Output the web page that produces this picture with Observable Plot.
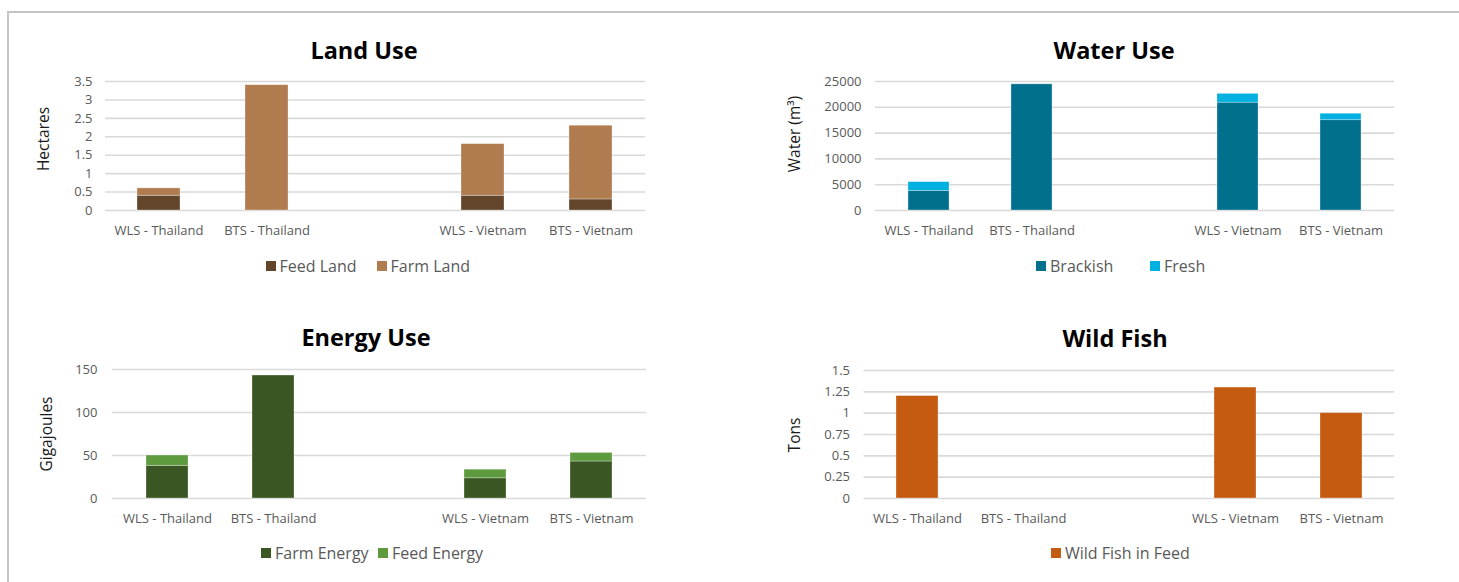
<!DOCTYPE html>
<html><head><meta charset="utf-8">
<script src="https://cdn.jsdelivr.net/npm/d3@7"></script>
<script src="https://cdn.jsdelivr.net/npm/@observablehq/plot@0.6"></script>
<style>
body{margin:0;background:#fff;font-family:"Open Sans",sans-serif;}
#page{position:relative;width:1459px;height:582px;overflow:hidden;background:#fff;}
.frame{position:absolute;left:7px;top:11px;width:1500px;height:620px;border-top:2px solid #c4c4c4;border-left:2px solid #c4c4c4;}
.title{position:absolute;width:400px;text-align:center;font-size:23.5px;font-weight:700;line-height:23px;color:#000;white-space:nowrap;}
.ylab{position:absolute;font-size:15.5px;color:#1a1a1a;white-space:nowrap;transform:translate(-50%,-50%) rotate(-90deg);line-height:1;}
.legend{position:absolute;display:flex;height:20px;align-items:center;font-size:16px;color:#595959;line-height:20px;white-space:nowrap;}
.item{display:flex;align-items:center;}
.sw{width:10px;height:10px;margin-right:4px;flex:none;}
.chart{position:absolute;}
</style></head>
<body><div id="page"><div class="frame"></div></div>
<script>
// ---- data ----
const categories = ["WLS - Thailand", "BTS - Thailand", "WLS - Vietnam", "BTS - Vietnam"];
const xDomain = ["WLS - Thailand", "BTS - Thailand", " ", "WLS - Vietnam", "BTS - Vietnam"];

const landSeries = ["Feed Land", "Farm Land"];
const landFeed = [0.4, 0, 0.4, 0.3];
const landFarm = [0.2, 3.4, 1.4, 2.0];
const landTicks = [0, 0.5, 1, 1.5, 2, 2.5, 3, 3.5];

const waterSeries = ["Brackish", "Fresh"];
const waterBrackish = [3800, 24450, 20900, 17500];
const waterFresh = [1700, 0, 1700, 1250];
const waterTicks = [0, 5000, 10000, 15000, 20000, 25000];

const energySeries = ["Farm Energy", "Feed Energy"];
const energyFarm = [38, 143, 23.5, 43];
const energyFeed = [12, 0, 10, 10];
const energyTicks = [0, 50, 100, 150];

const fishSeries = ["Wild Fish in Feed"];
const fishFeed = [1.2, 0, 1.3, 1.0];
const fishTicks = [0, 0.25, 0.5, 0.75, 1, 1.25, 1.5];

const panels = [
  {title:"Land Use", ylabel:"Hectares", series:landSeries, values:[landFeed, landFarm], ticks:landTicks, domain:[0,3.5],
   colors:["#63452c","#b07c4f"],
   left:20, top:70, width:640, height:170, mL:85, mT:11, tickPad:13,
   titleX:364, titleTop:39, ylabX:44, ylabY:139, legX:265.6, legTop:255.5, stride:111},
  {title:"Water Use", ylabel:"Water (m³)", series:waterSeries, values:[waterBrackish, waterFresh], ticks:waterTicks, domain:[0,25000],
   colors:["#00708d","#00b0e0"],
   left:760, top:70, width:649, height:170, mL:115, mT:11, tickPad:14,
   titleX:1114, titleTop:39, ylabX:795, ylabY:134, legX:1036, legTop:255.5, stride:114},
  {title:"Energy Use", ylabel:"Gigajoules", series:energySeries, values:[energyFarm, energyFeed], ticks:energyTicks, domain:[0,150],
   colors:["#3a5723","#5e9b3e"],
   left:20, top:358, width:641, height:170, mL:92, mT:11, tickPad:15,
   titleX:366, titleTop:325.6, ylabX:46.5, ylabY:434, legX:261, legTop:542.5, stride:117},
  {title:"Wild Fish", ylabel:"Tons", series:fishSeries, values:[fishFeed], ticks:fishTicks, domain:[0,1.5],
   colors:["#c55a11"],
   left:760, top:359, width:649, height:169, mL:103.5, mT:11, tickPad:14,
   titleX:1115, titleTop:327, ylabX:795, ylabY:435, legX:1051, legTop:542.5, stride:130}
];

const page = document.getElementById("page");

for (const p of panels) {
  const rows = [];
  p.series.forEach((s, i) => categories.forEach((c, j) => {
    const v = p.values[i][j];
    if (v > 0) rows.push({category: c, series: s, value: v});
  }));

  const chart = Plot.plot({
    width: p.width, height: p.height,
    marginLeft: p.mL, marginRight: 15, marginTop: p.mT, marginBottom: 30,
    style: {fontFamily: "'Open Sans', sans-serif", fontSize: "13px", color: "#595959", background: "transparent", overflow: "visible"},
    x: {domain: xDomain, paddingInner: 0.6, paddingOuter: 0.3, label: null},
    y: {domain: p.domain, label: null},
    color: {domain: p.series, range: p.colors},
    marks: [
      Plot.gridY(p.ticks, {stroke: "#d9d9d9", strokeOpacity: 1, strokeWidth: 1.6}),
      Plot.barY(rows, {x: "category", y: "value", fill: "series", order: p.series, stroke: "#ffffff", strokeOpacity: 0.4, strokeWidth: 0.75}),
      Plot.axisX({tickSize: 0, tickPadding: 15, fontSize: 13, label: null}),
      Plot.axisY({ticks: p.ticks, tickFormat: d => String(d), tickSize: 0, tickPadding: p.tickPad, fontSize: 13, label: null})
    ]
  });
  chart.classList.add("chart");
  chart.style.left = p.left + "px";
  chart.style.top = p.top + "px";
  page.appendChild(chart);

  const t = document.createElement("div");
  t.className = "title";
  t.textContent = p.title;
  t.style.left = (p.titleX - 200) + "px";
  t.style.top = p.titleTop + "px";
  page.appendChild(t);

  const yl = document.createElement("div");
  yl.className = "ylab";
  yl.textContent = p.ylabel;
  yl.style.left = p.ylabX + "px";
  yl.style.top = p.ylabY + "px";
  page.appendChild(yl);

  const lg = document.createElement("div");
  lg.className = "legend";
  lg.style.left = p.legX + "px";
  lg.style.top = p.legTop + "px";
  p.series.forEach((s, i) => {
    const it = document.createElement("div");
    it.className = "item";
    if (i < p.series.length - 1) it.style.width = p.stride + "px";
    const sw = document.createElement("span");
    sw.className = "sw";
    sw.style.background = p.colors[i];
    const tx = document.createElement("span");
    tx.textContent = s;
    it.appendChild(sw); it.appendChild(tx);
    lg.appendChild(it);
  });
  page.appendChild(lg);
}
</script>
</body></html>
